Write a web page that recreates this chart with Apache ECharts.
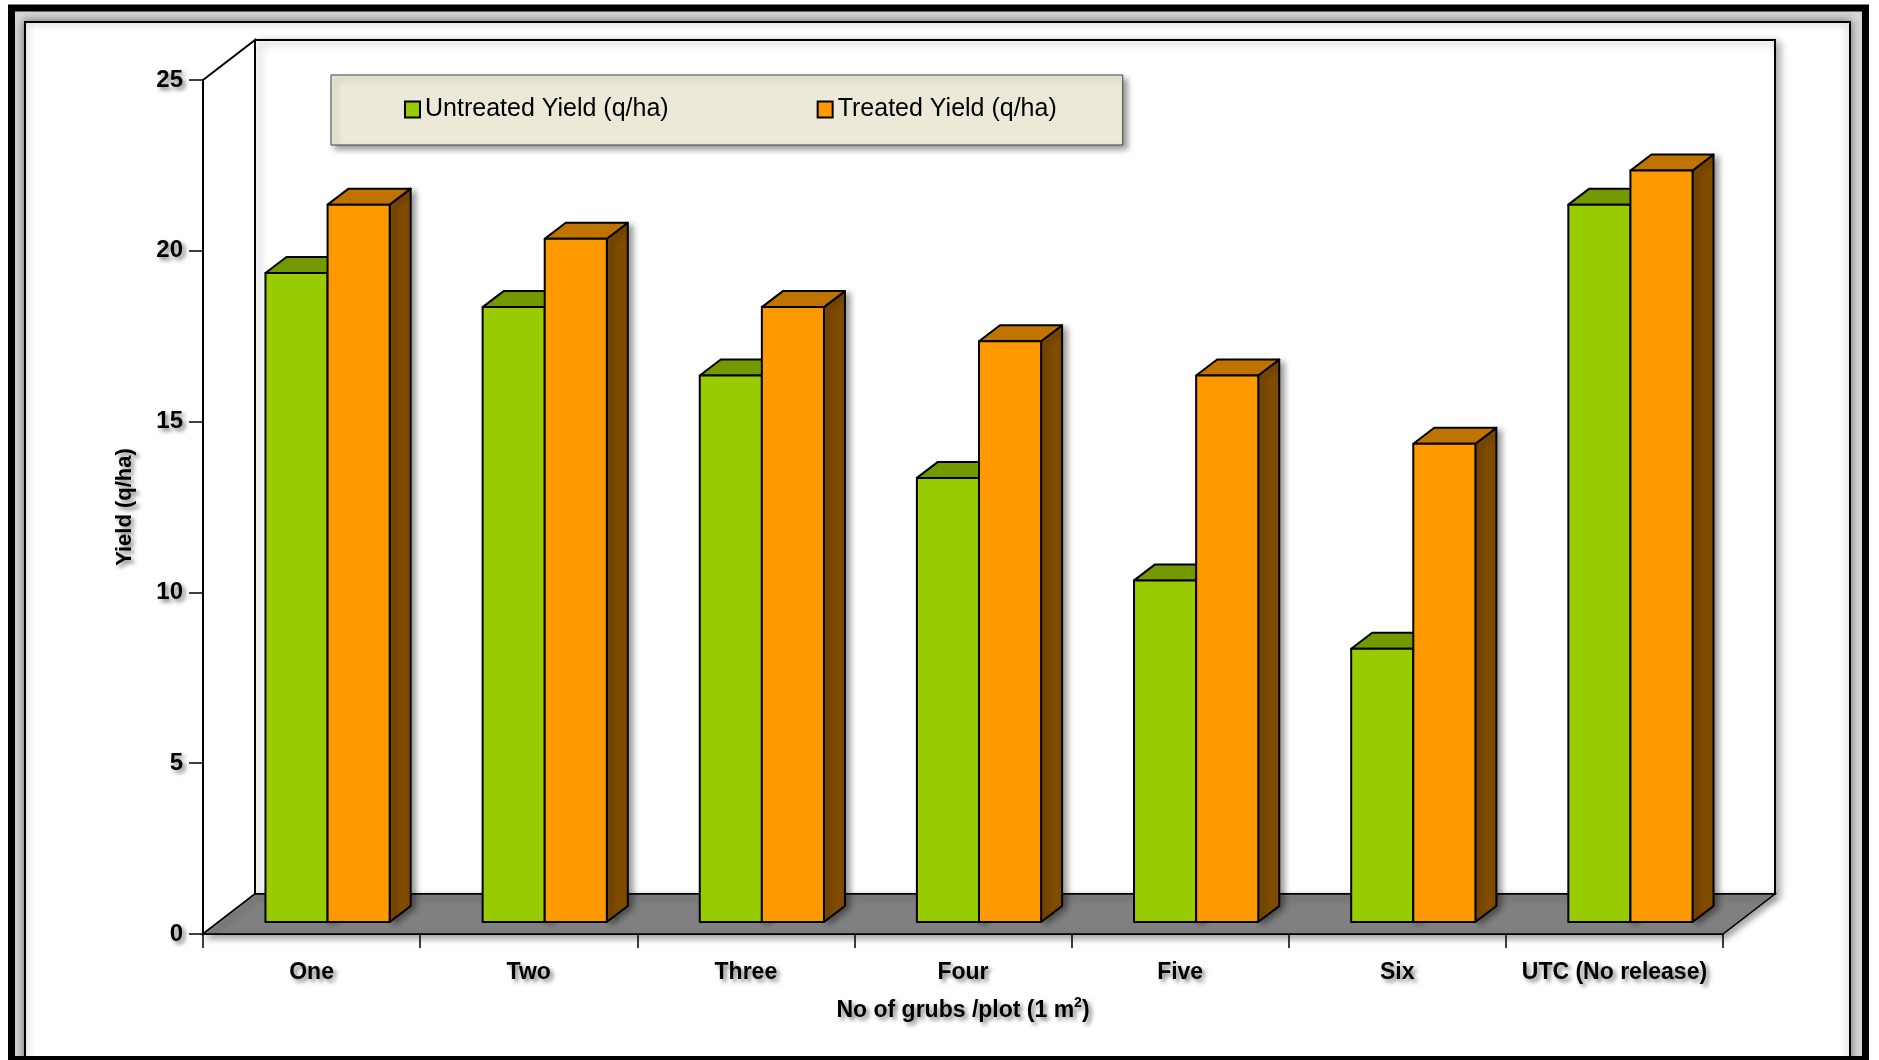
<!DOCTYPE html>
<html>
<head>
<meta charset="utf-8">
<script src="https://cdn.jsdelivr.net/npm/echarts@6/dist/echarts.min.js"></script>
<style>
  html, body { margin: 0; padding: 0; background: #ffffff; }
  #chart { width: 1879px; height: 1060px; }
</style>
</head>
<body>
<div id="chart"></div>
<script>
// ---- data ----
const categories = ['One', 'Two', 'Three', 'Four', 'Five', 'Six', 'UTC (No release)'];
const untreatedYield = [19, 18, 16, 13, 10, 8, 21];
const treatedYield = [21, 20, 18, 17, 16, 14, 22];
const yTicks = [0, 5, 10, 15, 20, 25];
const seriesNames = ['Untreated Yield (q/ha)', 'Treated Yield (q/ha)'];

// ---- style ----
const FONT = "'Liberation Sans', Arial, sans-serif";
const WALL_DX = 52, WALL_DY = 40;      // 3D depth of the chart box
const BAR_OX = 16, BAR_OY = 12;        // front face of bars set back into box
const BAR_DX = 21, BAR_DY = 16;        // bar depth
const BAR_FRAC = 0.286;                // bar width as fraction of band
const palette = [
  { front: '#99CC00', top: '#739900', side: '#4C6600' },
  { front: '#FF9900', top: '#BF7300', side: '#7F4C00' }
];
const textShadow = {
  textShadowColor: 'rgba(0,0,0,0.5)',
  textShadowBlur: 4,
  textShadowOffsetX: 3,
  textShadowOffsetY: 3
};

function wallsRender(params, api) {
  const cs = params.coordSys;
  const x0 = cs.x, y0 = cs.y, x1 = cs.x + cs.width, y1 = cs.y + cs.height;
  const stroke = { stroke: '#000', lineWidth: 2 };
  return {
    type: 'group',
    children: [
      { type: 'rect', shape: { x: x0 + WALL_DX, y: y0 - WALL_DY, width: cs.width, height: cs.height },
        style: Object.assign({ fill: '#fff', shadowBlur: 8, shadowOffsetX: 4, shadowOffsetY: 3, shadowColor: 'rgba(0,0,0,0.35)' }, stroke) },
      { type: 'polygon', shape: { points: [[x0, y0], [x0 + WALL_DX, y0 - WALL_DY], [x0 + WALL_DX, y1 - WALL_DY], [x0, y1]] },
        style: Object.assign({ fill: '#fff' }, stroke) },
      { type: 'polygon', shape: { points: [[x0, y1], [x1, y1], [x1 + WALL_DX, y1 - WALL_DY], [x0 + WALL_DX, y1 - WALL_DY]] },
        style: { fill: '#808080', stroke: '#000', lineWidth: 1.5, shadowBlur: 6, shadowOffsetX: 3, shadowOffsetY: 4, shadowColor: 'rgba(0,0,0,0.35)' } }
    ]
  };
}

function makeBarRender(idx) {
  const col = palette[idx];
  return function (params, api) {
    const i = api.value(0), v = api.value(1);
    const base = api.coord([i, 0]);
    const top = api.coord([i, v]);
    const band = api.size([1, 0])[0];
    const bw = band * BAR_FRAC;
    const xa = base[0] + BAR_OX + (idx === 0 ? -bw : 0);
    const xb = xa + bw;
    const yb = base[1] - BAR_OY;
    const yt = top[1] - BAR_OY;
    const st = { stroke: '#000', lineWidth: 2, lineJoin: 'round' };
    return {
      type: 'group',
      children: [
        { type: 'polygon', shape: { points: [[xb, yt], [xb + BAR_DX, yt - BAR_DY], [xb + BAR_DX, yb - BAR_DY], [xb, yb]] },
          style: Object.assign({ fill: col.side, shadowBlur: 6, shadowOffsetX: 4, shadowOffsetY: 2, shadowColor: 'rgba(0,0,0,0.4)' }, st) },
        { type: 'polygon', shape: { points: [[xa, yt], [xa + BAR_DX, yt - BAR_DY], [xb + BAR_DX, yt - BAR_DY], [xb, yt]] },
          style: Object.assign({ fill: col.top }, st) },
        { type: 'rect', shape: { x: xa, y: yt, width: bw, height: yb - yt },
          style: Object.assign({ fill: col.front }, st) }
      ]
    };
  };
}

const chart = echarts.init(document.getElementById('chart'), null, { renderer: 'canvas' });
chart.setOption({
  backgroundColor: '#ffffff',
  animation: false,
  graphic: [
    { type: 'rect', z: -10, shape: { x: 11.5, y: 8, width: 1854, height: 1100 },
      style: { fill: '#d4d4d4', stroke: '#000', lineWidth: 7 } },
    { type: 'rect', z: -9, shape: { x: 25, y: 22, width: 1825, height: 1100 },
      style: { fill: '#ffffff', stroke: '#000', lineWidth: 2, shadowBlur: 8, shadowColor: 'rgba(0,0,0,0.45)' } },
    { type: 'rect', z: -8, shape: { x: 8, y: 1056, width: 1861, height: 4 },
      style: { fill: '#000' } }
  ],
  legend: {
    left: 331, top: 75,
    orient: 'horizontal',
    icon: 'rect',
    itemWidth: 15, itemHeight: 16,
    itemGap: 148,
    padding: [22, 66, 23, 73],
    backgroundColor: '#ECE9D8',
    borderColor: '#444',
    borderWidth: 1,
    shadowBlur: 6, shadowOffsetX: 4, shadowOffsetY: 4, shadowColor: 'rgba(0,0,0,0.4)',
    textStyle: { fontFamily: FONT, fontSize: 25, color: '#000' },
    data: [
      { name: seriesNames[0], itemStyle: { color: palette[0].front, borderColor: '#000', borderWidth: 2 } },
      { name: seriesNames[1], itemStyle: { color: palette[1].front, borderColor: '#000', borderWidth: 2 } }
    ]
  },
  grid: { left: 203, top: 80, width: 1520, height: 854, containLabel: false, outerBoundsMode: 'none' },
  xAxis: {
    type: 'category',
    data: categories,
    boundaryGap: true,
    axisLine: { show: true, lineStyle: { color: '#000', width: 2 } },
    axisTick: { show: true, length: 14, alignWithLabel: false, lineStyle: { color: '#000', width: 1.5 } },
    axisLabel: Object.assign({ fontFamily: FONT, fontSize: 23, fontWeight: 'bold', color: '#000', margin: 27, interval: 0 }, textShadow),
    splitLine: { show: false },
    name: '{a|No of grubs /plot (1 m}{s|2}{a|)}',
    nameLocation: 'middle',
    nameGap: 62,
    nameTextStyle: Object.assign({
      rich: {
        a: Object.assign({ fontFamily: FONT, fontSize: 23, fontWeight: 'bold', color: '#000', lineHeight: 26, verticalAlign: 'bottom' }, textShadow),
        s: Object.assign({ fontFamily: FONT, fontSize: 14, fontWeight: 'bold', color: '#000', lineHeight: 14, verticalAlign: 'top' }, textShadow)
      }
    }, textShadow)
  },
  yAxis: {
    type: 'value',
    min: yTicks[0], max: yTicks[yTicks.length - 1], interval: yTicks[1] - yTicks[0],
    axisLine: { show: true, lineStyle: { color: '#000', width: 2 } },
    axisTick: { show: true, length: 14, lineStyle: { color: '#000', width: 1.5 } },
    axisLabel: Object.assign({ fontFamily: FONT, fontSize: 24, fontWeight: 'bold', color: '#000', margin: 20 }, textShadow),
    splitLine: { show: false },
    name: 'Yield (q/ha)',
    nameLocation: 'middle',
    nameGap: 67,
    nameTextStyle: Object.assign({ fontFamily: FONT, fontSize: 22, fontWeight: 'bold', color: '#000' }, textShadow)
  },
  series: [
    { type: 'custom', name: '__walls', z: 1, silent: true, renderItem: wallsRender, data: [[0, 0]], legendHoverLink: false },
    { type: 'custom', name: seriesNames[0], z: 3, renderItem: makeBarRender(0),
      itemStyle: { color: palette[0].front },
      data: untreatedYield.map((v, i) => [i, v]) },
    { type: 'custom', name: seriesNames[1], z: 4, renderItem: makeBarRender(1),
      itemStyle: { color: palette[1].front },
      data: treatedYield.map((v, i) => [i, v]) }
  ]
});
</script>
</body>
</html>
